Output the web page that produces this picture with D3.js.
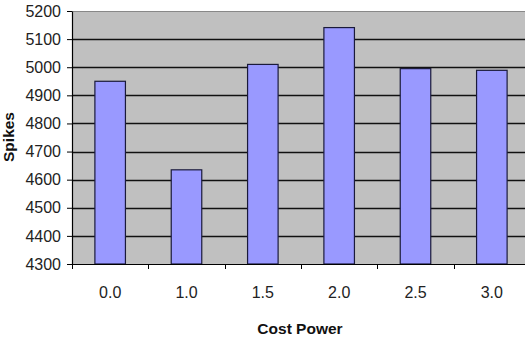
<!DOCTYPE html>
<html>
<head>
<meta charset="utf-8">
<script src="https://cdn.jsdelivr.net/npm/d3@7"></script>
<style>
  html, body { margin: 0; padding: 0; background: #fff; }
  svg { display: block; }
  text { font-family: Arial, "Liberation Sans", sans-serif; }
</style>
</head>
<body>
<svg id="chart" width="525" height="343"></svg>
<script>
// Spike counts for each cost-power setting
const categories = ["0.0", "1.0", "1.5", "2.0", "2.5", "3.0"];
const spikes = [4950, 4635, 5010, 5141, 4995, 4989];
const yTicks = [4300, 4400, 4500, 4600, 4700, 4800, 4900, 5000, 5100, 5200];

const svg = d3.select("#chart");
const plot = { left: 72, top: 11, right: 530, bottom: 264 };

// one slot per category; bars sit centred in their slot
const xSlot = d3.scaleBand().domain(categories).range([plot.left, plot.right]).padding(0);
const xBar = d3.scaleBand().domain(categories).range([plot.left, plot.right])
  .paddingInner(0.6).paddingOuter(0.3);
const y = d3.scaleLinear().domain([4300, 5200]).range([plot.bottom, plot.top]);

// plot background
svg.append("rect")
  .attr("x", plot.left).attr("y", plot.top)
  .attr("width", plot.right - plot.left).attr("height", plot.bottom - plot.top)
  .attr("fill", "#c0c0c0");

// top border of plot area
svg.append("line")
  .attr("x1", plot.left).attr("x2", plot.right)
  .attr("y1", plot.top + 0.5).attr("y2", plot.top + 0.5)
  .attr("stroke", "#888").attr("stroke-width", 1);

// horizontal gridlines
svg.append("g").selectAll("line")
  .data(yTicks.filter(d => d > 4300 && d < 5200))
  .join("line")
  .attr("x1", plot.left).attr("x2", plot.right)
  .attr("y1", d => Math.round(y(d)) + 0.5).attr("y2", d => Math.round(y(d)) + 0.5)
  .attr("stroke", "#111").attr("stroke-width", 1.3);

// bars
svg.append("g").selectAll("rect")
  .data(categories.map((c, i) => ({ c, v: spikes[i] })))
  .join("rect")
  .attr("x", d => xBar(d.c))
  .attr("y", d => y(d.v))
  .attr("width", xBar.bandwidth())
  .attr("height", d => y(4300) - y(d.v))
  .attr("fill", "#9999ff")
  .attr("stroke", "#1a1a3a")
  .attr("stroke-width", 1.2);

// y axis
const yAxis = svg.append("g")
  .attr("transform", `translate(${plot.left},0)`)
  .call(d3.axisLeft(y).tickValues(yTicks).tickFormat(d3.format("d")).tickSize(5).tickPadding(6).tickSizeOuter(0));
yAxis.select(".domain").attr("stroke", "#000").attr("stroke-width", 1.2);
yAxis.selectAll(".tick line").attr("stroke", "#000");
yAxis.selectAll(".tick text")
  .attr("font-size", "16px").attr("fill", "#222")
  .style("font-family", "Arial, 'Liberation Sans', sans-serif");

// x axis line
svg.append("line")
  .attr("x1", plot.left - 1).attr("x2", plot.right)
  .attr("y1", plot.bottom + 0.5).attr("y2", plot.bottom + 0.5)
  .attr("stroke", "#000").attr("stroke-width", 1.2);

// x tick marks at category boundaries
const bounds = categories.map(c => xSlot(c)).concat([xSlot(categories[categories.length - 1]) + xSlot.bandwidth()]);
svg.append("g").selectAll("line")
  .data(bounds)
  .join("line")
  .attr("x1", d => Math.round(d) + 0.5).attr("x2", d => Math.round(d) + 0.5)
  .attr("y1", plot.bottom).attr("y2", plot.bottom + 5)
  .attr("stroke", "#000");

// x tick labels
svg.append("g").selectAll("text")
  .data(categories)
  .join("text")
  .attr("x", d => xSlot(d) + xSlot.bandwidth() / 2)
  .attr("y", 298)
  .attr("text-anchor", "middle")
  .attr("font-size", "16px")
  .attr("fill", "#222")
  .text(d => d);

// axis titles
svg.append("text")
  .attr("x", 300).attr("y", 334)
  .attr("text-anchor", "middle")
  .attr("font-size", "15.5px").attr("font-weight", "bold").attr("fill", "#111")
  .text("Cost Power");

svg.append("text")
  .attr("transform", "translate(14,137) rotate(-90)")
  .attr("text-anchor", "middle")
  .attr("font-size", "15.5px").attr("font-weight", "bold").attr("fill", "#111")
  .text("Spikes");
</script>
</body>
</html>
